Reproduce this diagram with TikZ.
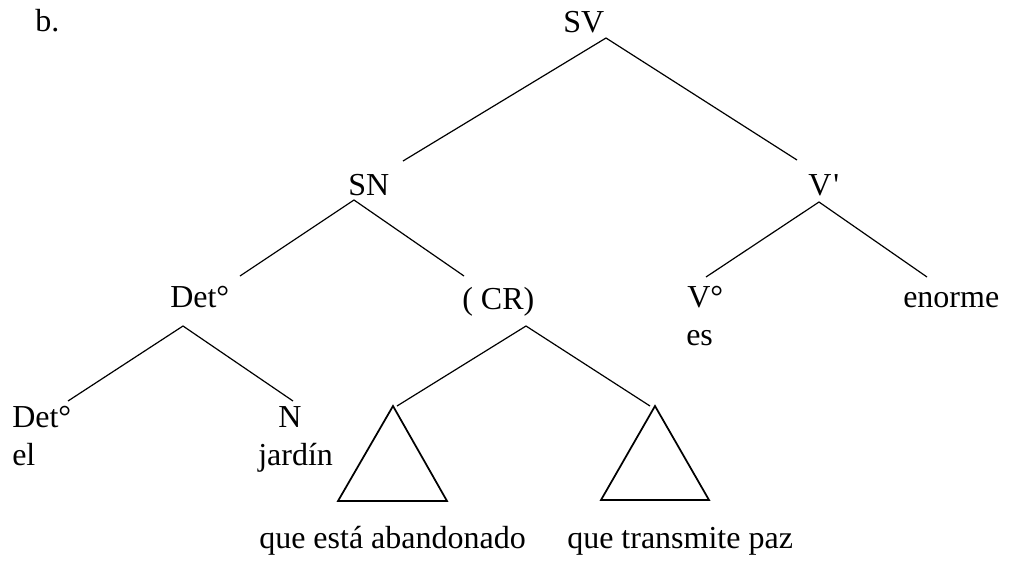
\documentclass[tikz,border=0pt]{standalone}
\usepackage{fontspec}
\setmainfont{Liberation Serif}

\begin{document}
\begin{tikzpicture}[x=.75pt, y=-.75pt,
  lbl/.style={anchor=base west, inner sep=0pt, font=\fontsize{24}{28}\selectfont},
  branch/.style={black, line width=.9pt},
  roof/.style={black, line width=1.3pt, line join=miter}]
\useasboundingbox (0,0) rectangle (1010,562);

% labels
\node[lbl] (b) at (35,31) {b.};
\node[lbl] (SV) at (563,32) {SV};
\node[lbl] (SN) at (348,195) {SN};
\node[lbl] (Vbar) at (808,195) {V\kern1.5pt\textquotesingle};
\node[lbl] (DetP) at (170,307) {Det°};
\node[lbl] (CR) at (462,309) {( CR)};
\node[lbl] (V0) at (687,307) {V°};
\node[lbl] (es) at (686,345) {es};
\node[lbl] (enorme) at (903,307) {enorme};
\node[lbl] (Det0) at (12,427) {Det°};
\node[lbl] (el) at (12,465) {el};
\node[lbl] (N) at (278,427) {N};
\node[lbl] (jardin) at (258,465) {jardín};
\node[lbl] (rel1) at (259,548) {que está abandonado};
\node[lbl] (rel2) at (567,548) {que transmite paz};

% branch points
\coordinate (SV-b) at (606,38);
\coordinate (SN-t) at (403,161);
\coordinate (Vbar-t) at (797,160);
\coordinate (SN-b) at (354,200);
\coordinate (DetP-t) at (240,276);
\coordinate (CR-t) at (464,276);
\coordinate (Vbar-b) at (819,202);
\coordinate (V0-t) at (706,277);
\coordinate (enorme-t) at (927,277);
\coordinate (DetP-b) at (183,326);
\coordinate (Det0-t) at (68,401);
\coordinate (N-t) at (293,401);
\coordinate (CR-b) at (526,326);
\coordinate (rel1-t) at (397,406);
\coordinate (rel2-t) at (650,406);

\draw[branch] (SN-t) -- (SV-b) -- (Vbar-t);
\draw[branch] (DetP-t) -- (SN-b) -- (CR-t);
\draw[branch] (V0-t) -- (Vbar-b) -- (enorme-t);
\draw[branch] (Det0-t) -- (DetP-b) -- (N-t);
\draw[branch] (rel1-t) -- (CR-b) -- (rel2-t);

% roofs
\draw[roof] (393,406) -- (338,501) -- (447,501) -- cycle;
\draw[roof] (655,406) -- (601,500) -- (709,500) -- cycle;

\end{tikzpicture}
\end{document}
